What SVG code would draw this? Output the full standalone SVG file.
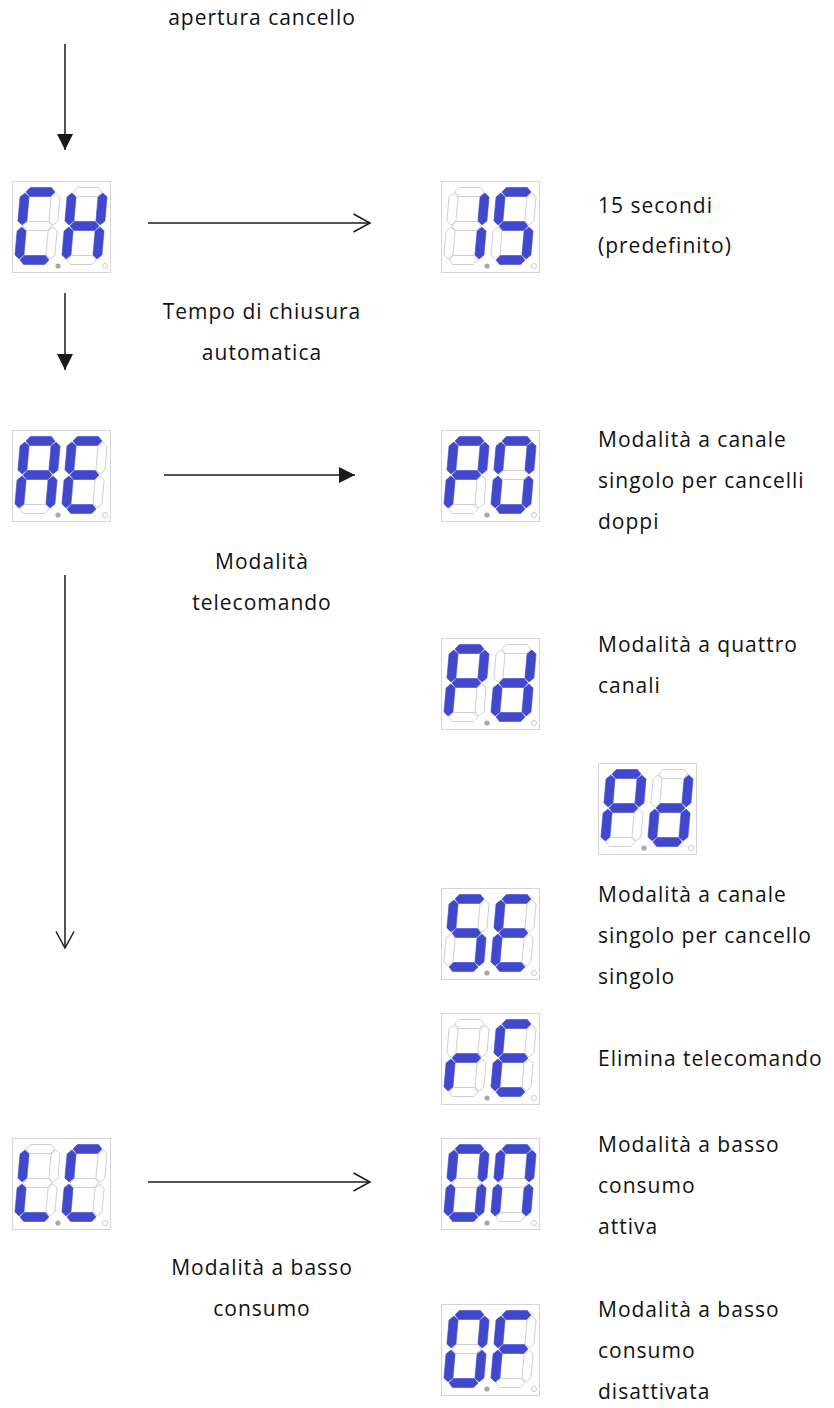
<svg xmlns="http://www.w3.org/2000/svg" width="834" height="1408" viewBox="0 0 834 1408">
<style>
.bg{fill:#fff}
.box{fill:#fff;stroke:#d4d4d4;stroke-width:1}
.on{fill:#4049cc;stroke:#4049cc;stroke-width:0.6}
.off{fill:#fff;stroke:#c4c4c4;stroke-width:0.8}
.dot1{fill:#a8a8a8}
.dot2{fill:#fff;stroke:#c0c0c0;stroke-width:0.8}
.t{font-family:"Open Sans","Noto Sans","Liberation Sans",sans-serif;font-size:21px;letter-spacing:1px;fill:#111}
.m{text-anchor:middle}
.ln{stroke:#1a1a1a;stroke-width:1.5;fill:none}
</style>
<defs>
<polygon id="sa" points="1,-34 5,-38.5 26,-38.5 30,-34 26,-29.5 5,-29.5"/>
<polygon id="sg" points="1,0 5,-4.5 26,-4.5 30,0 26,4.5 5,4.5"/>
<polygon id="sd" points="1,34 5,29.5 26,29.5 30,34 26,38.5 5,38.5"/>
<polygon id="sf" points="0,-33 4.5,-29 4.5,-5 0,-1 -4.5,-5 -4.5,-29"/>
<polygon id="se" points="0,1 4.5,5 4.5,29 0,33 -4.5,29 -4.5,5"/>
<polygon id="sb" points="31,-33 35.5,-29 35.5,-5 31,-1 26.5,-5 26.5,-29"/>
<polygon id="sc" points="31,1 35.5,5 35.5,29 31,33 26.5,29 26.5,5"/>
<g id="dC" transform="skewX(-5)"><use href="#sa" class="on"/><use href="#sb" class="off"/><use href="#sc" class="off"/><use href="#sd" class="on"/><use href="#se" class="on"/><use href="#sf" class="on"/><use href="#sg" class="off"/></g>
<g id="dH" transform="skewX(-5)"><use href="#sa" class="off"/><use href="#sb" class="on"/><use href="#sc" class="on"/><use href="#sd" class="off"/><use href="#se" class="on"/><use href="#sf" class="on"/><use href="#sg" class="on"/></g>
<g id="d1" transform="skewX(-5)"><use href="#sa" class="off"/><use href="#sb" class="on"/><use href="#sc" class="on"/><use href="#sd" class="off"/><use href="#se" class="off"/><use href="#sf" class="off"/><use href="#sg" class="off"/></g>
<g id="d5" transform="skewX(-5)"><use href="#sa" class="on"/><use href="#sb" class="off"/><use href="#sc" class="on"/><use href="#sd" class="on"/><use href="#se" class="off"/><use href="#sf" class="on"/><use href="#sg" class="on"/></g>
<g id="dA" transform="skewX(-5)"><use href="#sa" class="on"/><use href="#sb" class="on"/><use href="#sc" class="on"/><use href="#sd" class="off"/><use href="#se" class="on"/><use href="#sf" class="on"/><use href="#sg" class="on"/></g>
<g id="dE" transform="skewX(-5)"><use href="#sa" class="on"/><use href="#sb" class="off"/><use href="#sc" class="off"/><use href="#sd" class="on"/><use href="#se" class="on"/><use href="#sf" class="on"/><use href="#sg" class="on"/></g>
<g id="dP" transform="skewX(-5)"><use href="#sa" class="on"/><use href="#sb" class="on"/><use href="#sc" class="off"/><use href="#sd" class="off"/><use href="#se" class="on"/><use href="#sf" class="on"/><use href="#sg" class="on"/></g>
<g id="d0" transform="skewX(-5)"><use href="#sa" class="on"/><use href="#sb" class="on"/><use href="#sc" class="on"/><use href="#sd" class="on"/><use href="#se" class="on"/><use href="#sf" class="on"/><use href="#sg" class="off"/></g>
<g id="dd" transform="skewX(-5)"><use href="#sa" class="off"/><use href="#sb" class="on"/><use href="#sc" class="on"/><use href="#sd" class="on"/><use href="#se" class="on"/><use href="#sf" class="off"/><use href="#sg" class="on"/></g>
<g id="dS" transform="skewX(-5)"><use href="#sa" class="on"/><use href="#sb" class="off"/><use href="#sc" class="on"/><use href="#sd" class="on"/><use href="#se" class="off"/><use href="#sf" class="on"/><use href="#sg" class="on"/></g>
<g id="dr" transform="skewX(-5)"><use href="#sa" class="off"/><use href="#sb" class="off"/><use href="#sc" class="off"/><use href="#sd" class="off"/><use href="#se" class="on"/><use href="#sf" class="off"/><use href="#sg" class="on"/></g>
<g id="dL" transform="skewX(-5)"><use href="#sa" class="off"/><use href="#sb" class="off"/><use href="#sc" class="off"/><use href="#sd" class="on"/><use href="#se" class="on"/><use href="#sf" class="on"/><use href="#sg" class="off"/></g>
<g id="dn" transform="skewX(-5)"><use href="#sa" class="on"/><use href="#sb" class="on"/><use href="#sc" class="on"/><use href="#sd" class="off"/><use href="#se" class="on"/><use href="#sf" class="on"/><use href="#sg" class="off"/></g>
<g id="dF" transform="skewX(-5)"><use href="#sa" class="on"/><use href="#sb" class="off"/><use href="#sc" class="off"/><use href="#sd" class="off"/><use href="#se" class="on"/><use href="#sf" class="on"/><use href="#sg" class="on"/></g>
<g id="frame"><rect class="box" x="0.5" y="0.5" width="98" height="91"/><circle class="dot1" cx="46" cy="85" r="2.6"/><circle class="dot2" cx="93" cy="85" r="2.6"/></g>
<marker id="fa" viewBox="0 0 16 16" refX="16" refY="8" markerWidth="16" markerHeight="16" markerUnits="userSpaceOnUse" orient="auto"><path d="M0,0 L16,8 L0,16 z" fill="#1a1a1a"/></marker>
<marker id="oa" viewBox="-1 -1 19 20" refX="16.5" refY="9" markerWidth="19" markerHeight="20" markerUnits="userSpaceOnUse" orient="auto"><path d="M0,0 L16.5,9 L0,18" fill="none" stroke="#1a1a1a" stroke-width="1.5"/></marker>
</defs>
<rect class="bg" x="0" y="0" width="834" height="1408"/>

<g id="connectors">
<line class="ln" x1="65" y1="44" x2="65" y2="150" marker-end="url(#fa)"/>
<line class="ln" x1="148" y1="223" x2="370" y2="223" marker-end="url(#oa)"/>
<line class="ln" x1="65" y1="293" x2="65" y2="370" marker-end="url(#fa)"/>
<line class="ln" x1="164" y1="475" x2="355" y2="475" marker-end="url(#fa)"/>
<line class="ln" x1="65" y1="575" x2="65" y2="948" marker-end="url(#oa)"/>
<line class="ln" x1="148" y1="1182" x2="370" y2="1182" marker-end="url(#oa)"/>
</g>

<g id="disp-CH" transform="translate(12,181)"><use href="#frame"/><use href="#dC" x="10" y="45"/><use href="#dH" x="57" y="45"/></g>
<g id="disp-15" transform="translate(441,181)"><use href="#frame"/><use href="#d1" x="10" y="45"/><use href="#d5" x="57" y="45"/></g>
<g id="disp-AE" transform="translate(12,430)"><use href="#frame"/><use href="#dA" x="10" y="45"/><use href="#dE" x="57" y="45"/></g>
<g id="disp-P0" transform="translate(441,430)"><use href="#frame"/><use href="#dP" x="10" y="45"/><use href="#d0" x="57" y="45"/></g>
<g id="disp-Pd-1" transform="translate(441,638)"><use href="#frame"/><use href="#dP" x="10" y="45"/><use href="#dd" x="57" y="45"/></g>
<g id="disp-Pd-2" transform="translate(598,763)"><use href="#frame"/><use href="#dP" x="10" y="45"/><use href="#dd" x="57" y="45"/></g>
<g id="disp-SE" transform="translate(441,888)"><use href="#frame"/><use href="#dS" x="10" y="45"/><use href="#dE" x="57" y="45"/></g>
<g id="disp-rE" transform="translate(441,1013)"><use href="#frame"/><use href="#dr" x="10" y="45"/><use href="#dE" x="57" y="45"/></g>
<g id="disp-LC" transform="translate(12,1138)"><use href="#frame"/><use href="#dL" x="10" y="45"/><use href="#dC" x="57" y="45"/></g>
<g id="disp-0n" transform="translate(441,1138)"><use href="#frame"/><use href="#d0" x="10" y="45"/><use href="#dn" x="57" y="45"/></g>
<g id="disp-0F" transform="translate(441,1304)"><use href="#frame"/><use href="#d0" x="10" y="45"/><use href="#dF" x="57" y="45"/></g>

<g id="lbl-apertura"><text class="t m" x="262" y="25">apertura cancello</text></g>
<g id="lbl-15"><text class="t" x="598" y="213">15 secondi</text><text class="t" x="598" y="253">(predefinito)</text></g>
<g id="lbl-tempo"><text class="t m" x="262" y="319">Tempo di chiusura</text><text class="t m" x="262" y="360">automatica</text></g>
<g id="lbl-P0"><text class="t" x="598" y="447">Modalità a canale</text><text class="t" x="598" y="488">singolo per cancelli</text><text class="t" x="598" y="529">doppi</text></g>
<g id="lbl-telecomando"><text class="t m" x="262" y="569">Modalità</text><text class="t m" x="262" y="610">telecomando</text></g>
<g id="lbl-Pd"><text class="t" x="598" y="652">Modalità a quattro</text><text class="t" x="598" y="693">canali</text></g>
<g id="lbl-SE"><text class="t" x="598" y="902">Modalità a canale</text><text class="t" x="598" y="943">singolo per cancello</text><text class="t" x="598" y="984">singolo</text></g>
<g id="lbl-rE"><text class="t" x="598" y="1066">Elimina telecomando</text></g>
<g id="lbl-0n"><text class="t" x="598" y="1152">Modalità a basso</text><text class="t" x="598" y="1193">consumo</text><text class="t" x="598" y="1234">attiva</text></g>
<g id="lbl-LC"><text class="t m" x="262" y="1275">Modalità a basso</text><text class="t m" x="262" y="1316">consumo</text></g>
<g id="lbl-0F"><text class="t" x="598" y="1317">Modalità a basso</text><text class="t" x="598" y="1358">consumo</text><text class="t" x="598" y="1399">disattivata</text></g>
</svg>
